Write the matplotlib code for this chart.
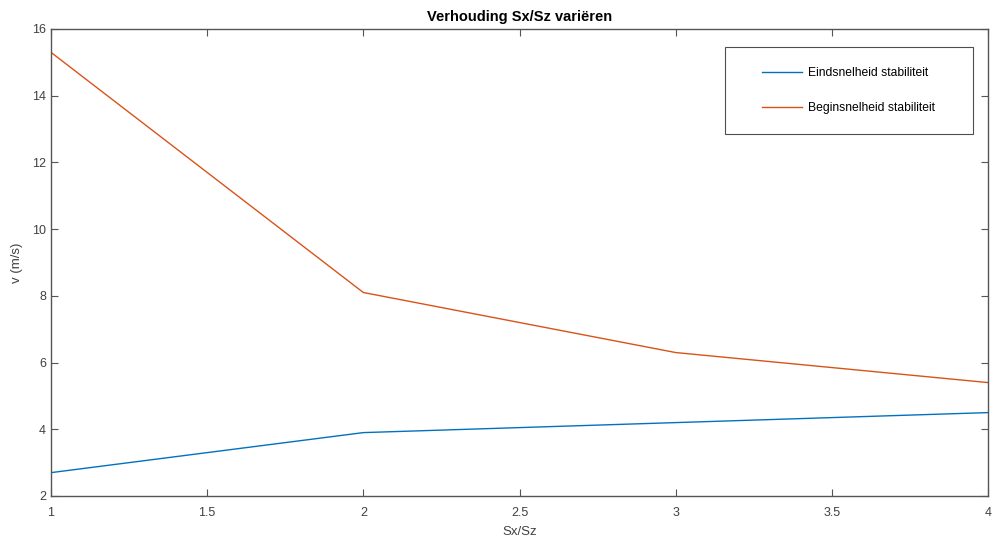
import numpy as np
import matplotlib
matplotlib.use("Agg")
import matplotlib.pyplot as plt
from matplotlib.legend_handler import HandlerLine2D

plt.rcParams['font.family'] = ['Liberation Sans', 'DejaVu Sans']

ratio = [1, 2, 3, 4]
v_eind = [2.7, 3.9, 4.2, 4.5]
v_begin = [15.3, 8.1, 6.3, 5.4]


class PaddedLine(HandlerLine2D):
    # leave an empty gap before the legend line, like MATLAB does
    def get_xdata(self, legend, xdescent, ydescent, width, height, fontsize):
        x0 = -xdescent + 1.4 * fontsize
        xd = np.array([x0, width - xdescent])
        return xd, xd


fig = plt.figure(figsize=(9.92, 5.42), dpi=100)
ax = fig.add_axes([0.0514, 0.0849, 0.9446, 0.8616])

l1, = ax.plot(ratio, v_eind, color='#0072BD', lw=1.0, label='Eindsnelheid stabiliteit')
l2, = ax.plot(ratio, v_begin, color='#D95319', lw=1.0, label='Beginsnelheid stabiliteit')

ax.set_xlim(1, 4)
ax.set_ylim(2, 16)
ax.set_xticks([1, 1.5, 2, 2.5, 3, 3.5, 4])
ax.set_xticklabels(['1', '1.5', '2', '2.5', '3', '3.5', '4'])
ax.set_yticks(range(2, 17, 2))

axc = '#555555'
for s in ax.spines.values():
    s.set_color(axc)
    s.set_linewidth(1.0)
ax.tick_params(direction='in', top=True, right=True, length=5, width=0.8,
               colors=axc, labelcolor='#404040', labelsize=9)
ax.tick_params(axis='x', pad=8)

ax.set_xlabel('Sx/Sz', fontsize=9.5, color='#404040', labelpad=5)
ax.set_ylabel('v (m/s)', fontsize=9.5, color='#404040', labelpad=6.5)
ax.set_title('Verhouding Sx/Sz variëren', fontsize=10.5, fontweight='bold', pad=6)

leg = ax.legend(handler_map={l1: PaddedLine(), l2: PaddedLine()},
                loc='upper left', bbox_to_anchor=(0.7193, 0.7794, 0.2647, 0.1821),
                mode='expand', fontsize=8.7,
                frameon=True, fancybox=False, handlelength=4.7, handletextpad=0.5,
                labelspacing=1.95, borderpad=1.65, borderaxespad=0)
leg.get_frame().set_edgecolor('#222222')
leg.get_frame().set_linewidth(0.8)

fig.savefig('out.png', dpi=100)
